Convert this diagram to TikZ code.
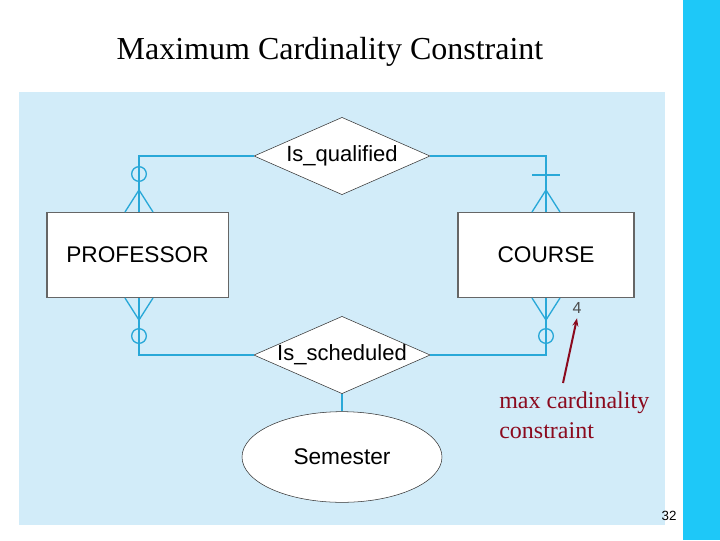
\documentclass[tikz,border=0pt]{standalone}
\usepackage{fontspec}
\setmainfont{Liberation Serif}
\newfontfamily\hv{Liberation Sans}
\usetikzlibrary{shapes.geometric,arrows.meta}
\definecolor{panel}{HTML}{D2ECF9}
\definecolor{strip}{HTML}{1EC8F8}
\definecolor{ln}{HTML}{29A8D8}
\definecolor{dred}{HTML}{8B0A1E}
\tikzset{ent/.style={draw=gray!80!black,fill=white,line width=1pt,minimum width=136pt,minimum height=64pt,font=\hv\fontsize{17}{17}\selectfont},
rel/.style={diamond,aspect=2.3,draw=black!80,fill=white,inner sep=0pt,minimum width=132pt,minimum height=58pt,font=\hv\fontsize{16.5}{17}\selectfont},
con/.style={draw=ln,line width=1pt}}
\begin{document}
\begin{tikzpicture}[x=0.75pt,y=-0.75pt]
\useasboundingbox (0,0) rectangle (720,540);
\fill[white] (0,0) rectangle (720,540);
\fill[strip] (683,0) rectangle (720,540);
\fill[panel] (19,92) rectangle (665,525);
\node (title) at (330,52) {\fontsize{24}{26}\selectfont Maximum Cardinality Constraint};
\node[ent] (prof) at (137.5,255) {PROFESSOR};
\node[ent,minimum width=132pt] (course) at (546,255) {COURSE};
\node[rel] (q) at (342,156) {Is\_qualified};
\node[rel] (s) at (342,355) {Is\_scheduled};
\node[ellipse,draw=black!80,fill=white,minimum width=150pt,minimum height=68pt,font=\hv\fontsize{17}{17}\selectfont] (sem) at (342,457) {Semester};
\draw[con] (q.west) -| (139,212);
\draw[con] (q.east) -| (course.north);
\draw[con] (s.west) -| (139,298);
\draw[con] (s.east) -| (course.south);
\draw[con] (s.south) -- (sem.north);
% professor ends
\draw[con] (139,174) circle [radius=5.5pt];
\draw[con] (125,212) -- (139,190) -- (153,212);
\draw[con] (139,336) circle [radius=5.5pt];
\draw[con] (125,298) -- (139,320) -- (153,298);
% course ends
\draw[con] (532,175) -- (560,175);
\draw[con] (532,212) -- (546,190) -- (560,212);
\draw[con] (546,336) circle [radius=5.5pt];
\draw[con] (532,298) -- (546,320) -- (560,298);
\node[font=\hv\fontsize{12}{12}\selectfont,text=black!70] (four) at (577,308) {4};
\coordinate (tail) at (563,383);
\draw[dred,line width=1.5pt,-{Stealth[length=6pt]}] (tail) -- (four.south);
\node[dred,align=left,anchor=north west,font=\fontsize{18}{22}\selectfont,inner sep=0pt] (note) at (499,392) {max cardinality\\constraint};
\node[font=\hv\fontsize{10}{10}\selectfont] (pg) at (669,516) {32};
\end{tikzpicture}
\end{document}
